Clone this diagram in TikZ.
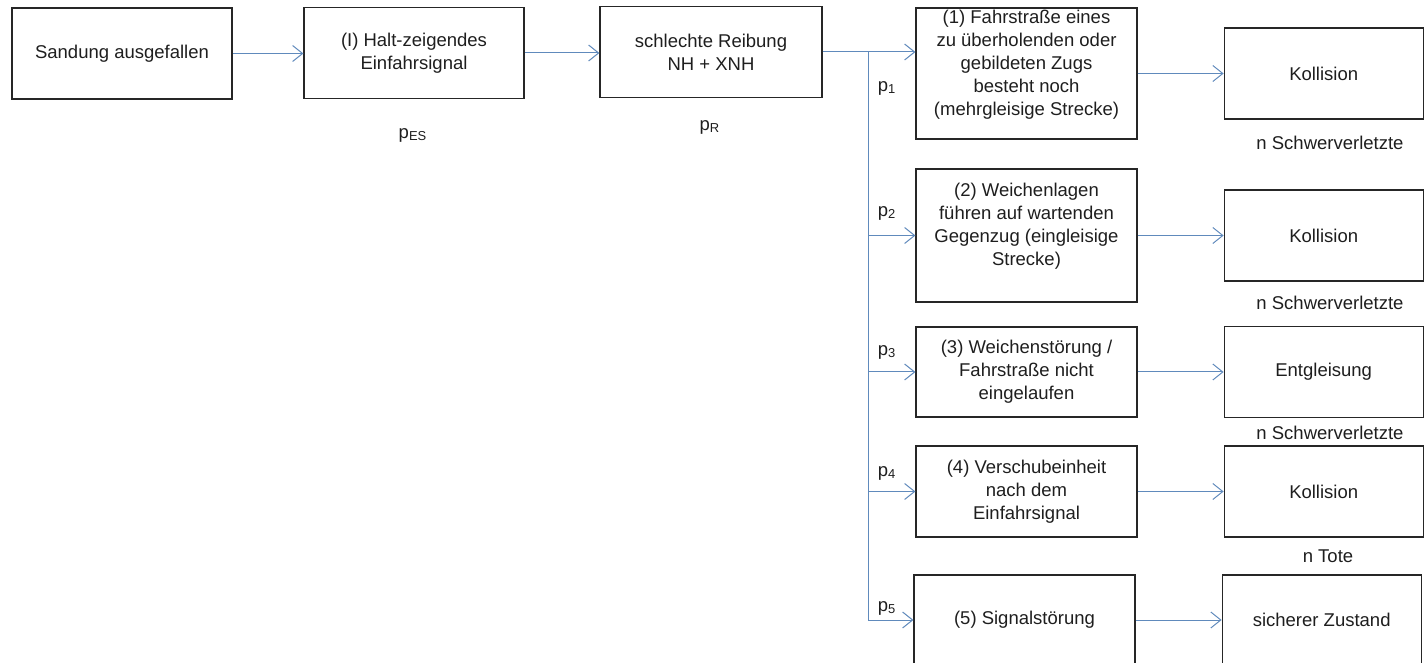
\documentclass[tikz,border=0pt]{standalone}
\usepackage{fontspec}
\setmainfont{Liberation Sans}
\usetikzlibrary{positioning}
\usetikzlibrary{arrows.meta}
\definecolor{linkblue}{RGB}{96,138,188}
\definecolor{textgray}{RGB}{30,30,30}

\begin{document}
\begin{tikzpicture}
[x=0.5pt, y=-0.5pt, font=\fontsize{9.25}{11.5}\selectfont, text=textgray,
 box/.style={draw=black!85, line width=0.6pt, align=center,
   minimum width=110.5pt, minimum height=45.5pt, inner sep=2pt},
 outbox/.style={box, minimum width=99.5pt},
 link/.style={draw=linkblue, line width=0.5pt},
 arr/.style={link, -{Straight Barb[length=5pt,width=8pt]}}]

\useasboundingbox (0,0) rectangle (1426,663);

% Upper chain:
\node[box, minimum width=110pt] (sand) at (122,53.5) {Sandung ausgefallen};
\node[box, minimum width=110pt] (halt) at (414,53) {(I) Halt-zeigendes\\Einfahrsignal};
\node[box, minimum width=111pt] (reib) at (711,52) {schlechte Reibung\\NH + XNH};
\node (pes) at (413,135) {p\textsubscript{ES}};
\node (pr)  at (710,127) {p\textsubscript{R}};

% Cases (1)-(5):
\node[box, minimum height=65.5pt,
  label={[align=center, yshift=4.25pt]center:(1) Fahrstraße eines\\zu überholenden oder\\gebildeten Zugs\\besteht noch\\(mehrgleisige Strecke)}]
  (f1) at (1026.5,73.5) {};
\node[box, minimum height=66.5pt,
  label={[align=center, yshift=4.75pt]center:(2) Weichenlagen\\führen auf wartenden\\Gegenzug (eingleisige\\Strecke)}]
  (f2) at (1026.5,235.5) {};
\node[box, minimum height=45pt] (f3) at (1026.5,372) {(3) Weichenstörung /\\Fahrstraße nicht\\eingelaufen};
\node[box] (f4) at (1026.5,491.5) {(4) Verschubeinheit\\nach dem\\Einfahrsignal};
\node[box, minimum height=45pt] (f5) at (1024.5,620) {(5) Signalstörung};

% Consequences:
\node[outbox, right=43pt of f1] (k1) {Kollision};
\node[outbox, right=43pt of f2] (k2) {Kollision};
\node[outbox, right=43pt of f3] (k3) {Entgleisung};
\node[outbox, right=43pt of f4] (k4) {Kollision};
\node[outbox, minimum height=45pt, right=43pt of f5] (k5) {sicherer Zustand};

\node (s1) at (1330,143) {n Schwerverletzte};
\node (s2) at (1330,303) {n Schwerverletzte};
\node (s3) at (1330,433) {n Schwerverletzte};
\node (s4) at (1328,556) {n Tote};

% Probabilities of the branches:
\foreach \i/\y in {1/88,2/213,3/352,4/473,5/608}
  \node (p\i) at (887,\y) {p\textsubscript{\i}};

% Connectors:
\draw[arr] (sand.east) -- (sand.east -| halt.west);
\draw[arr] (halt.east) -- (halt.east -| reib.west);
\coordinate (branch) at (868,52);
\draw[link] (reib.east) -- (branch);
\draw[arr] (branch) -- (branch -| f1.west);
\draw[link] (branch) -- (branch |- f5.west);
\foreach \i in {2,...,5}
  \draw[arr] (branch |- f\i.west) -- (f\i.west);
\foreach \i in {1,...,5}
  \draw[arr] (f\i) -- (k\i);

\end{tikzpicture}
\end{document}
